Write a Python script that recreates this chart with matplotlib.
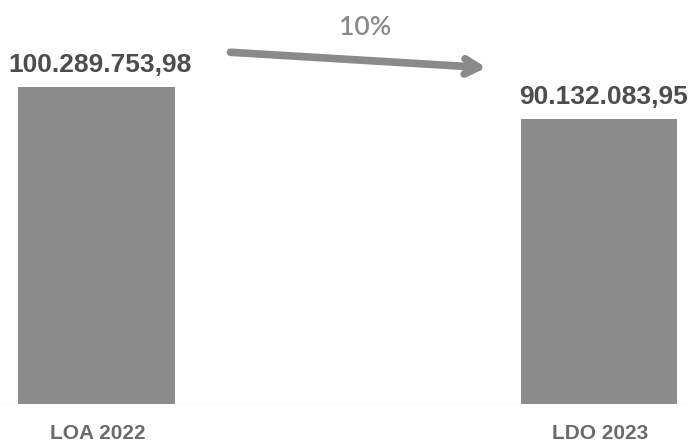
import matplotlib
matplotlib.use("Agg")
import matplotlib.pyplot as plt

# valores (R$)
categorias = ["LOA 2022", "LDO 2023"]
valores = [100289753.98, 90132083.95]
rotulos = ["100.289.753,98", "90.132.083,95"]

variacao = round((1 - valores[1] / valores[0]) * 100)  # ~10%

plt.rcParams['font.family'] = ['Liberation Sans', 'DejaVu Sans']

fig = plt.figure(figsize=(6.88, 4.43), dpi=100)
ax = fig.add_axes([0, 39 / 443, 1, 404 / 443])

x = list(range(len(categorias)))
ax.bar(x, valores, width=0.312, color="#8c8c8c", zorder=2)

ax.set_xlim(-0.191, 1.177)
ax.set_ylim(0, 127.8e6)
ax.axhline(0, color="#e6e6e6", lw=1, zorder=1)

for i, v in enumerate(valores):
    ax.annotate(rotulos[i], (i, v), xytext=(3, 11), textcoords="offset points",
                ha="center", va="baseline", fontsize=19, fontweight="bold", color="#4d4d4d")
    ax.annotate(categorias[i], (i, 0), xytext=(1, -25), textcoords="offset points",
                ha="center", va="baseline", fontsize=15, fontweight="bold", color="#6a6a6a")

# seta de variação
ax.annotate("", xy=(0.711, 0.832), xytext=(0.331, 0.871), xycoords="axes fraction",
            arrowprops=dict(arrowstyle="->,head_length=1.0,head_width=0.55",
                            color="#8a8a8a", lw=5.5))
ax.text(0.531, 0.913, f"{variacao}%", transform=ax.transAxes, ha="center", va="baseline",
        fontsize=19, fontweight="semibold", color="#8a8a8a", family=['Lato', 'DejaVu Sans'])

ax.axis("off")
fig.savefig("out.png", dpi=100)
